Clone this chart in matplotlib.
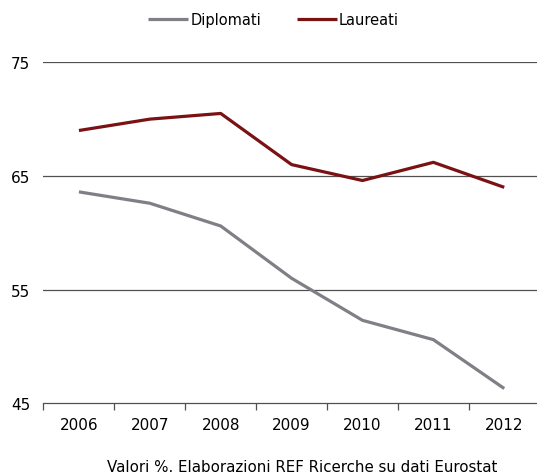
import numpy as np
import matplotlib
matplotlib.use("Agg")
import matplotlib.pyplot as plt
from matplotlib.ticker import FixedLocator

# data
years = ['2006', '2007', '2008', '2009', '2010', '2011', '2012']
diplomati = [63.6, 62.6, 60.6, 56.0, 52.3, 50.6, 46.3]
laureati = [69.0, 70.0, 70.5, 66.0, 64.6, 66.2, 64.0]
yticks = [45, 55, 65, 75]
note = "Valori %. Elaborazioni REF Ricerche su dati Eurostat"

plt.rcParams['font.family'] = ['DejaVu Sans']

fig = plt.figure(figsize=(5.37, 4.77), dpi=100)
ax = fig.add_axes([0.081, 0.1524, 0.924, 0.7149])

x = np.arange(len(years))
ax.plot(x, diplomati, color='#7f7f85', lw=2.3, label='Diplomati', solid_capstyle='butt')
ax.plot(x, laureati, color='#7a1214', lw=2.3, label='Laureati', solid_capstyle='butt')

ax.set_xlim(-0.5, len(years) - 0.5)
ax.set_ylim(45, 75)

# gridlines
for v in yticks[1:]:
    ax.axhline(v, color='#505050', lw=0.9, zorder=0)

ax.set_yticks(yticks)
ax.set_xticks(x)
ax.set_xticklabels(years)
ax.xaxis.set_minor_locator(FixedLocator(np.arange(-0.5, len(years), 1.0)))
ax.tick_params(axis='x', which='major', length=0, pad=10, labelsize=11, colors='#000000')
ax.tick_params(axis='x', which='minor', length=5, width=0.9, color='#505050', direction='out')
ax.tick_params(axis='y', length=0, pad=9.5, labelsize=11)

for s in ['top', 'right', 'left']:
    ax.spines[s].set_visible(False)
ax.spines['bottom'].set_color('#505050')
ax.spines['bottom'].set_linewidth(0.9)

fig.legend(loc='center left', bbox_to_anchor=(148 / 537, 1 - 20.7 / 477), ncol=2,
           frameon=False, borderpad=0, borderaxespad=0,
           fontsize=10.5, handlelength=2.75, handletextpad=0.15, columnspacing=2.45)

fig.text(0.563, 0.011, note, ha='center', va='baseline', fontsize=10.8)

fig.savefig('out.png', dpi=100)
